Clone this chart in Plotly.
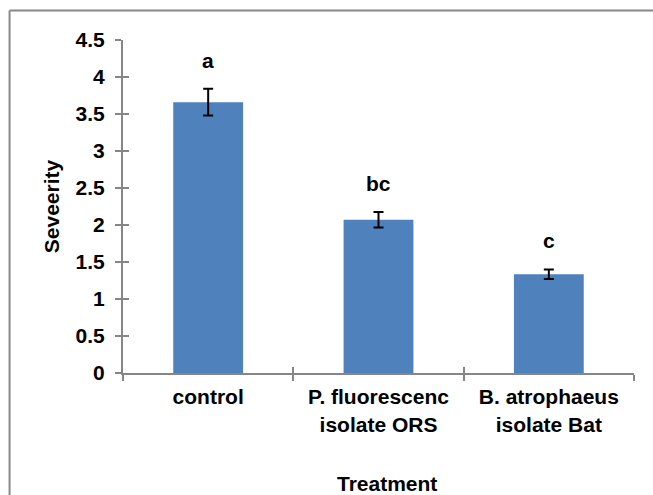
import plotly.graph_objects as go

categories = ["control", "P. fluorescenc<br>isolate ORS", "B. atrophaeus<br>isolate Bat"]
severity = [3.66, 2.07, 1.335]
errors = [0.18, 0.105, 0.065]
letters = ["a", "bc", "c"]

FONT = "Liberation Sans, Arial, sans-serif"
AX = "#868686"
FS = 21

fig = go.Figure()
fig.add_trace(go.Bar(
    x=categories, y=severity,
    marker=dict(color="#4F81BD", line=dict(width=0)),
    error_y=dict(type="data", array=errors, visible=True, color="black", thickness=2, width=5),
    width=0.41, showlegend=False, hoverinfo="skip",
))
# helper trace for crossing tick marks
fig.add_trace(go.Scatter(x=categories, y=severity, xaxis="x2", yaxis="y2", mode="markers",
                         marker=dict(opacity=0), showlegend=False, hoverinfo="skip"))

for c, v, e, t in zip(categories, severity, errors, letters):
    fig.add_annotation(x=c, y=v + e, text=t, showarrow=False, yanchor="bottom", yshift=15,
                       font=dict(family=FONT, size=FS, color="black", weight="bold"))

fig.add_annotation(xref="paper", yref="paper", x=0.517, y=-0.333, text="Treatment", showarrow=False,
                   yanchor="middle", font=dict(family=FONT, size=FS, color="black", weight="bold"))

# chart-area border (top and left edges visible in the crop)
fig.add_shape(type="line", xref="paper", yref="paper", x0=-0.222, x1=1.3, y0=1.0885, y1=1.0885,
              line=dict(color="#888888", width=2), layer="below")
fig.add_shape(type="line", xref="paper", yref="paper", x0=-0.222, x1=-0.222, y0=1.0885, y1=-0.6,
              line=dict(color="#888888", width=2), layer="below")

fig.update_layout(
    width=653, height=495,
    margin=dict(l=123, r=19, t=40, b=122),
    paper_bgcolor="white", plot_bgcolor="white",
    font=dict(family=FONT, color="black"),
    xaxis=dict(type="category", categoryarray=categories, range=[-0.5, 2.5],
               showline=True, linecolor=AX, linewidth=2,
               ticks="outside", ticklen=6, tickcolor=AX, tickwidth=2, tickson="boundaries",
               tickfont=dict(family=FONT, size=FS, color="black", weight="bold"),
               ticklabelstandoff=4, showgrid=False, zeroline=False),
    yaxis=dict(range=[0, 4.5], dtick=0.5, tick0=0, showline=True, linecolor=AX, linewidth=2,
               ticks="outside", ticklen=6, tickcolor=AX, tickwidth=2,
               tickfont=dict(family=FONT, size=FS, color="black", weight="bold"),
               ticklabelstandoff=6, showgrid=False, zeroline=False, automargin=False,
               title=dict(text="Seveerity", standoff=10,
                          font=dict(family=FONT, size=FS, color="black", weight="bold"))),
    xaxis2=dict(type="category", categoryarray=categories, range=[-0.5, 2.5], overlaying="x", anchor="y",
                showline=False, ticks="inside", ticklen=6, tickcolor=AX, tickwidth=2, tickson="boundaries",
                showticklabels=False, showgrid=False, zeroline=False),
    yaxis2=dict(range=[0, 4.5], dtick=0.5, tick0=0, overlaying="y", anchor="x",
                showline=False, ticks="inside", ticklen=6, tickcolor=AX, tickwidth=2,
                showticklabels=False, showgrid=False, zeroline=False),
)

fig.write_html("out.html", config={"displayModeBar": False},
               post_script="document.body.style.margin='0';document.documentElement.style.overflow='hidden';document.body.style.overflow='hidden';")
